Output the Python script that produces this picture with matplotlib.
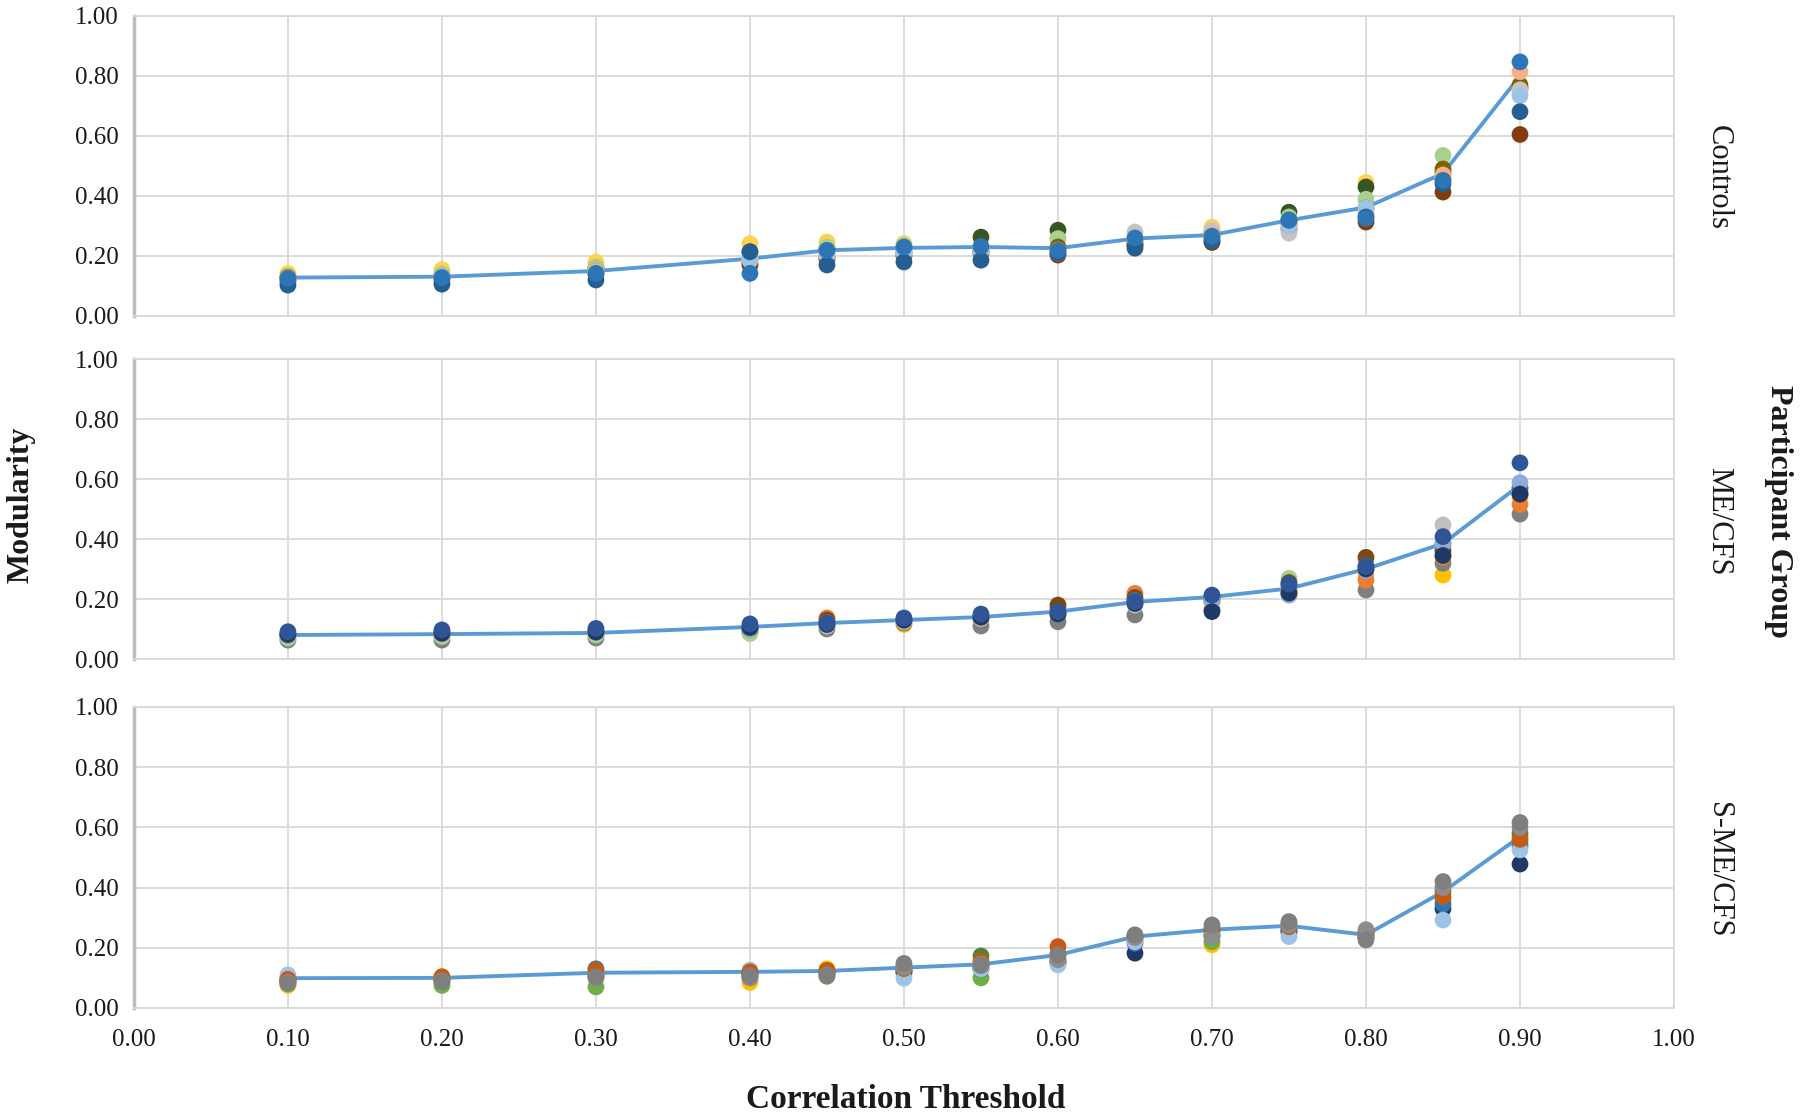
import matplotlib
matplotlib.use("Agg")
import matplotlib.pyplot as plt
import numpy as np

plt.rcParams['font.family'] = ['Liberation Serif', 'DejaVu Serif']

thresholds = [0.10, 0.20, 0.30, 0.40, 0.45, 0.50, 0.55, 0.60, 0.65, 0.70, 0.75, 0.80, 0.85, 0.90]
groups = ["Controls", "ME/CFS", "S-ME/CFS"]

# Controls: one row per participant
controls_colors = ["#FFD34F", "#375623", "#A9D18E", "#806000", "#843C0C",
                   "#C4C4C4", "#F4B183", "#9DC3E6", "#255E91", "#2E75B6"]
controls_values = [
    [.142, .155, .180, .241, .247, .241, .220, .258, .236, .296, .310, .445, .470, .740],
    [.130, .135, .160, .214, .225, .225, .263, .286, .250, .280, .346, .430, .480, .760],
    [.128, .140, .163, .200, .230, .235, .208, .258, .245, .270, .330, .389, .535, .760],
    [.125, .130, .150, .175, .190, .200, .220, .230, .240, .260, .310, .360, .490, .770],
    [.115, .120, .140, .170, .195, .210, .210, .203, .235, .245, .290, .313, .413, .605],
    [.120, .125, .145, .185, .200, .210, .215, .210, .280, .285, .276, .350, .460, .754],
    [.125, .130, .150, .190, .210, .220, .225, .220, .255, .270, .300, .340, .470, .814],
    [.120, .130, .145, .190, .210, .215, .225, .215, .260, .265, .300, .360, .450, .734],
    [.103, .106, .120, .214, .170, .180, .186, .210, .226, .250, .320, .330, .440, .681],
    [.125, .128, .142, .142, .219, .230, .232, .219, .260, .266, .319, .325, .452, .847],
]
controls_mean = [.128, .131, .150, .191, .219, .227, .230, .226, .258, .270, .319, .362, .475, .800]

# ME/CFS
mecfs_colors = ["#FFC000", "#7F7F7F", "#ED7D31", "#BFBFBF", "#A9D18E",
                "#7B4A12", "#2E75B6", "#8FAADC", "#1F3864", "#2F5597"]
mecfs_values = [
    [.074, .074, .080, .090, .110, .115, .130, .145, .200, .200, .224, .280, .280, .540],
    [.063, .063, .070, .090, .100, .120, .110, .124, .147, .165, .215, .230, .319, .483],
    [.080, .080, .085, .100, .137, .125, .135, .170, .219, .190, .230, .263, .340, .515],
    [.075, .078, .083, .095, .110, .125, .135, .160, .180, .190, .220, .300, .447, .560],
    [.070, .075, .080, .085, .115, .130, .140, .160, .200, .200, .269, .330, .370, .570],
    [.080, .085, .090, .100, .130, .130, .140, .180, .205, .200, .255, .339, .360, .550],
    [.085, .090, .095, .110, .120, .130, .140, .155, .195, .210, .245, .310, .385, .570],
    [.080, .085, .090, .100, .120, .130, .145, .150, .190, .200, .213, .295, .385, .588],
    [.082, .086, .090, .105, .115, .130, .140, .150, .185, .158, .220, .300, .345, .550],
    [.091, .097, .102, .117, .120, .137, .150, .158, .191, .213, .250, .308, .408, .654],
]
mecfs_mean = [.080, .083, .087, .107, .120, .130, .140, .158, .190, .207, .235, .300, .385, .580]

# S-ME/CFS
smecfs_colors = ["#FFC000", "#70AD47", "#548235", "#1F3864", "#2E75B6",
                 "#9DC3E6", "#C55A11", "#8C8C8C", "#7F7F7F"]
smecfs_values = [
    [.075, .090, .100, .085, .130, .125, .150, .170, .230, .210, .265, .250, .380, .570],
    [.080, .075, .070, .100, .105, .115, .100, .150, .225, .220, .250, .235, .360, .550],
    [.090, .095, .110, .120, .120, .140, .173, .180, .240, .260, .280, .250, .390, .580],
    [.090, .095, .110, .110, .115, .120, .130, .150, .182, .240, .255, .235, .330, .478],
    [.100, .100, .130, .115, .120, .125, .140, .160, .215, .250, .260, .245, .345, .540],
    [.110, .100, .115, .126, .115, .099, .130, .143, .220, .240, .237, .243, .292, .525],
    [.095, .104, .126, .120, .125, .131, .155, .204, .235, .265, .270, .250, .370, .560],
    [.085, .090, .100, .100, .110, .135, .145, .160, .235, .237, .275, .260, .400, .600],
    [.082, .087, .104, .107, .107, .148, .141, .176, .243, .276, .287, .226, .420, .616],
]
smecfs_mean = [.099, .100, .117, .120, .123, .134, .145, .176, .237, .260, .273, .243, .386, .569]

panels = [
    (controls_values, controls_colors, controls_mean),
    (mecfs_values, mecfs_colors, mecfs_mean),
    (smecfs_values, smecfs_colors, smecfs_mean),
]

fig = plt.figure(figsize=(18, 11.17), dpi=100)
boxes = [(0.0744, 0.7171, 0.8556, 0.2686),
         (0.0744, 0.4100, 0.8556, 0.2686),
         (0.0744, 0.0976, 0.8556, 0.2695)]

grid_col = "#D9D9D9"
for k, (vals, cols, mean) in enumerate(panels):
    ax = fig.add_axes(boxes[k])
    ax.plot(thresholds, mean, color="#5B9BD5", lw=2.8, zorder=3)
    for row, c in zip(vals, cols):
        ax.scatter(thresholds, row, s=145, color=c, edgecolors="none", zorder=4)
    ax.set_xlim(0, 1)
    ax.set_ylim(0, 1)
    ax.set_xticks(np.arange(0, 1.01, 0.1))
    ax.set_yticks(np.arange(0, 1.01, 0.2))
    ax.set_yticklabels(["%.2f" % v for v in np.arange(0, 1.01, 0.2)])
    if k == 2:
        ax.set_xticklabels(["%.2f" % v for v in np.arange(0, 1.01, 0.1)])
    else:
        ax.set_xticklabels([])
    ax.grid(True, color=grid_col, lw=1.3, zorder=0)
    ax.set_axisbelow(True)
    ax.tick_params(length=0, labelsize=18, colors="#1A1A1A")
    ax.tick_params(axis="y", pad=11)
    ax.tick_params(axis="x", pad=15)
    for s in ["top", "right", "bottom"]:
        ax.spines[s].set_color(grid_col)
        ax.spines[s].set_linewidth(1.3)
    ax.spines["left"].set_color("#BDBDBD")
    ax.spines["left"].set_linewidth(2.5)
    ax.text(1.029, 0.46, groups[k], transform=ax.transAxes, rotation=-90,
            ha="center", va="center", fontsize=22, color="#1A1A1A")

fig.text(0.0117, 0.548, "Modularity", rotation=90, ha="center", va="center",
         fontsize=23, fontweight="bold", color="#1A1A1A")
fig.text(0.988, 0.5425, "Participant Group", rotation=-90, ha="center", va="center",
         fontsize=23, fontweight="bold", color="#1A1A1A")
fig.text(0.503, 0.016, "Correlation Threshold", ha="center", va="center",
         fontsize=24, fontweight="bold", color="#1A1A1A")

fig.savefig("out.png", dpi=100)
